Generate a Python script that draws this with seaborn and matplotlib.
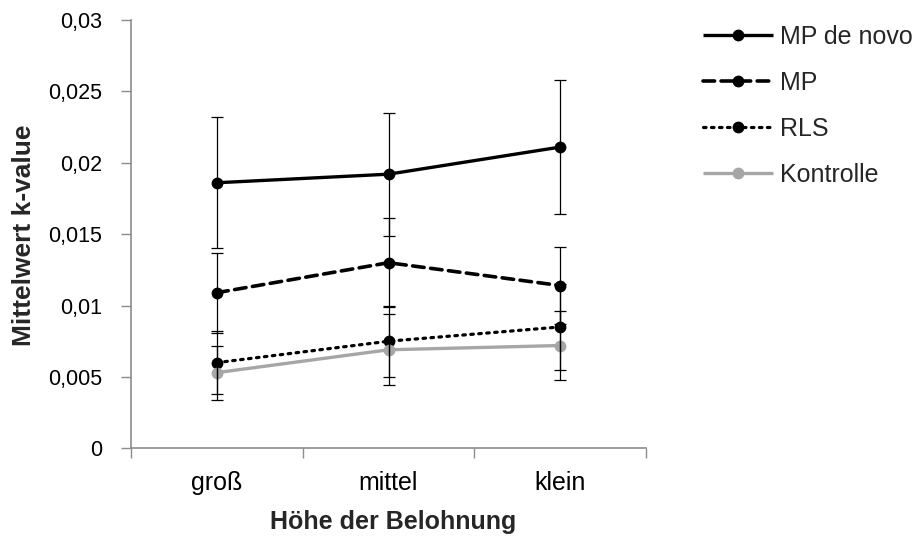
import matplotlib
matplotlib.use("Agg")
import matplotlib.pyplot as plt
from matplotlib.ticker import FixedLocator
import seaborn as sns
import pandas as pd

categories = ["groß", "mittel", "klein"]
series_names = ["MP de novo", "MP", "RLS", "Kontrolle"]
mp_de_novo = [0.0186, 0.0192, 0.0211]
mp_de_novo_err = [0.0046, 0.0043, 0.0047]
mp = [0.0109, 0.0130, 0.0114]
mp_err = [0.0028, 0.0031, 0.0027]
rls = [0.0060, 0.0075, 0.0085]
rls_err = [0.0022, 0.0025, 0.0030]
kontrolle = [0.0053, 0.0069, 0.0072]
kontrolle_err = [0.0019, 0.0025, 0.0024]
y_ticks = [0, 0.005, 0.01, 0.015, 0.02, 0.025, 0.03]
y_tick_labels = ["0", "0,005", "0,01", "0,015", "0,02", "0,025", "0,03"]

values = [mp_de_novo, mp, rls, kontrolle]
errors = [mp_de_novo_err, mp_err, rls_err, kontrolle_err]

sns.set_theme(style="white")
plt.rcParams["font.family"] = ["Liberation Sans", "DejaVu Sans"]

W, H = 923, 539
fig = plt.figure(figsize=(W / 100, H / 100), dpi=100)
ax_l, ax_r, ax_t, ax_b = 131, 646, 20, 448.3
ax = fig.add_axes([ax_l / W, 1 - ax_b / H, (ax_r - ax_l) / W, (ax_b - ax_t) / H])

styles = {
    "MP de novo": dict(color="black", ls="-", lw=2.4),
    "MP": dict(color="black", ls=(0, (3.2, 1.8)), lw=2.6),
    "RLS": dict(color="black", ls=(0, (0.8, 1.7)), lw=2.3),
    "Kontrolle": dict(color="#a6a6a6", ls="-", lw=2.4),
}

rows = []
for name, vals in zip(series_names, values):
    for c, v in zip(categories, vals):
        rows.append({"Kategorie": c, "Wert": v, "Serie": name})
df = pd.DataFrame(rows)

for name, vals, errs in zip(series_names, values, errors):
    st = styles[name]
    sub = df[df["Serie"] == name]
    sns.lineplot(data=sub, x="Kategorie", y="Wert", ax=ax, color=st["color"],
                 linestyle=st["ls"], linewidth=st["lw"], marker="o",
                 markersize=8.5, markeredgewidth=0, sort=False,
                 dash_capstyle="round", solid_capstyle="butt", label=name)
    ax.errorbar(range(len(categories)), vals, yerr=errs, fmt="none",
                ecolor="black", elinewidth=0.9, capsize=4.5, capthick=0.9,
                zorder=5)

ax.set_xlim(-0.5, 2.5)
ax.set_ylim(0, 0.03)
ax.yaxis.set_major_locator(FixedLocator(y_ticks))
ax.set_yticklabels(y_tick_labels)
ax.set_xticks([-0.5, 0.5, 1.5, 2.5])
ax.set_xticklabels([])
ax.set_xticks([0, 1, 2], minor=True)
ax.set_xticklabels(categories, minor=True)
ax.tick_params(axis="x", which="major", length=7, width=1, color="#8c8c8c", direction="out", bottom=True)
ax.tick_params(axis="x", which="minor", length=0, labelsize=18, pad=16, labelcolor="black")
ax.tick_params(axis="y", which="major", length=7, width=1, color="#8c8c8c", direction="out", left=True,
               labelsize=15.5, pad=14, labelcolor="black")

for s in ["top", "right"]:
    ax.spines[s].set_visible(False)
for s in ["left", "bottom"]:
    ax.spines[s].set_color("#8c8c8c")
    ax.spines[s].set_linewidth(1.2)
ax.grid(False)

ax.set_xlabel("Höhe der Belohnung", fontsize=18, fontweight="bold")
ax.xaxis.set_label_coords((393 - ax_l) / (ax_r - ax_l), (ax_b - 510) / (ax_b - ax_t))
ax.set_ylabel("Mittelwert k-value", fontsize=19, fontweight="bold")
ax.yaxis.set_label_coords((36 - ax_l) / (ax_r - ax_l), (ax_b - 235) / (ax_b - ax_t))

h, l = ax.get_legend_handles_labels()
if ax.get_legend():
    ax.get_legend().remove()
fig.legend(h, l, loc="upper left", bbox_to_anchor=(703 / W, 1 - 25 / H), frameon=False,
           fontsize=18, handlelength=2.8, handletextpad=0.28, labelspacing=0.88,
           borderaxespad=0, borderpad=0)

fig.savefig("out.png", dpi=100)
